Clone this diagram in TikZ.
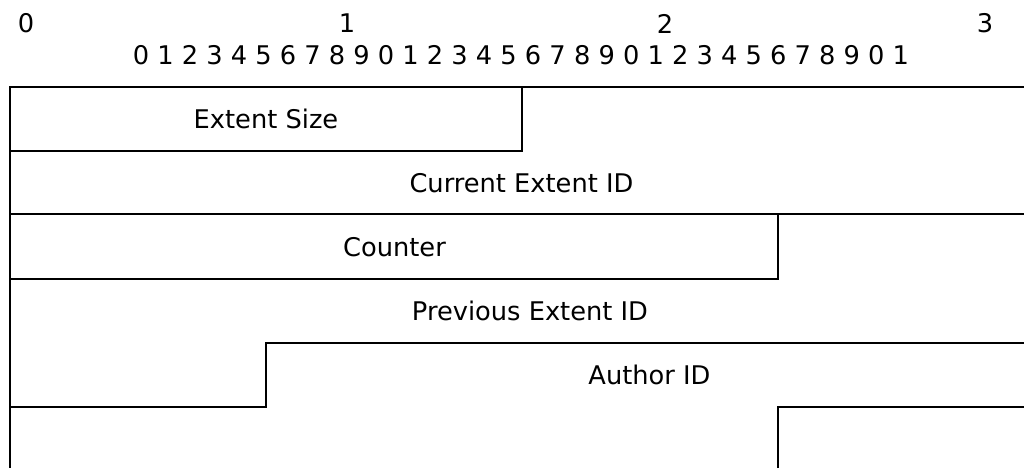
\documentclass[tikz,border=0pt]{standalone}
\usepackage{fontspec}
\setmainfont{DejaVu Sans}
\usetikzlibrary{positioning}

\begin{document}
\begin{tikzpicture}[x=0.5pt, y=-0.5pt, line width=1pt,
    label/.style={font=\fontsize{12.85}{15}\selectfont, inner sep=0pt}]
  \useasboundingbox (0,0) rectangle (1024,468);
  % bit ruler
  \node (tens0) [label] at (26,23.5) {0};
  \node (tens1) [label] at (347,23.5) {1};
  \node (tens2) [label] at (665,23.5) {2};
  \node (tens3) [label] at (985,23.5) {3};
  \node (bits) [label] at (521,55) {0 1 2 3 4 5 6 7 8 9 0 1 2 3 4 5 6 7 8 9 0 1 2 3 4 5 6 7 8 9 0 1};
  % fields
  \node (size) [label] at (266,119) {Extent Size};
  \node (current) [label] at (521.5,183) {Current Extent ID};
  \node (counter) [label] at (394.5,247) {Counter};
  \node (previous) [label] at (530,311) {Previous Extent ID};
  \node (author) [label] at (649.5,375) {Author ID};
  % outline
  \draw (1024,87) -- (10,87) -- (10,468);
  \draw (10,151) -- (522,151) -- (522,87);
  \draw (10,214) -- (1024,214);
  \draw (10,279) -- (778,279) -- (778,214);
  \draw (10,407) -- (266,407) -- (266,343) -- (1024,343);
  \draw (778,468) -- (778,407) -- (1024,407);
\end{tikzpicture}
\end{document}
